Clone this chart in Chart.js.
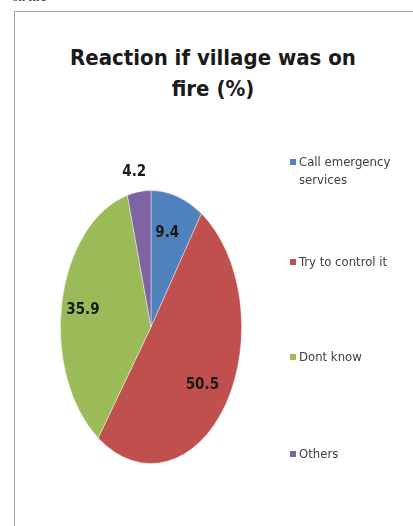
<!DOCTYPE html>
<html>
<head>
<meta charset="utf-8">
<script src="https://cdn.jsdelivr.net/npm/chart.js@4"></script>
<style>
  html, body { margin: 0; padding: 0; background: #fff; overflow: hidden; }
  #pagina { position: relative; width: 413px; height: 526px; overflow: hidden; }
  #textoTopo { position: absolute; left: 12px; top: -11px; font: 13px "Liberation Serif", serif; color: #222; }
  #moldura { position: absolute; left: 14px; top: 11px; width: 600px; height: 700px; border: 1px solid #a6a6a6; box-sizing: border-box; }
  #titulo { position: absolute; left: 40px; width: 346px; top: 42px; text-align: center;
    font: bold 22px "Liberation Sans Narrow", "Arial Narrow", "DejaVu Sans Condensed", sans-serif;
    line-height: 31px; color: #1a1a1a; }
  canvas { position: absolute; left: 0; top: 0; }
  .itemLegenda { position: absolute; left: 290px; width: 118px; font: 13px "Liberation Sans Narrow", "Arial Narrow", "DejaVu Sans Condensed", sans-serif;
    color: #404040; line-height: 18px; }
  .itemLegenda span.caixa { position: absolute; left: 0; top: 6px; width: 6px; height: 6px; }
  .itemLegenda span.texto { display: block; margin-left: 9px; }
</style>
</head>
<body>
<div id="pagina">
  <div id="textoTopo">on fire</div>
  <div id="moldura"></div>
  <div id="titulo">Reaction if village was on<br>fire (%)</div>
  <canvas id="graficoReacao" width="413" height="526"></canvas>
  <div id="legenda"></div>
</div>
<script>
// dados do grafico
const categorias = ['Call emergency services', 'Try to control it', 'Dont know', 'Others'];
const valores = [9.4, 50.5, 35.9, 4.2];
const cores = ['#4F81BD', '#C0504D', '#9BBB59', '#8064A2'];

// posicao vertical (topo) de cada item da legenda
const topoLegenda = [153, 253, 348, 445];

// achatamento horizontal da pizza (no original ela aparece como elipse)
const escalaX = 0.664;

// montando a legenda
let legenda = document.getElementById('legenda');
for (let i = 0; i < categorias.length; i++) {
    let item = document.createElement('div');
    item.className = 'itemLegenda';
    item.style.top = topoLegenda[i] + 'px';
    item.innerHTML = `<span class="caixa" style="background:${cores[i]}"></span><span class="texto">${categorias[i]}</span>`;
    legenda.appendChild(item);
}

// plugin que achata a pizza em elipse
const pluginElipse = {
    id: 'elipse',
    beforeDatasetsDraw(chart) {
        const arco = chart.getDatasetMeta(0).data[0];
        const ctx = chart.ctx;
        ctx.save();
        ctx.translate(arco.x, arco.y);
        ctx.scale(escalaX, 1);
        ctx.translate(-arco.x, -arco.y);
    },
    afterDatasetsDraw(chart) {
        chart.ctx.restore();
    }
};

// plugin dos rotulos de valor
const pluginRotulos = {
    id: 'rotulos',
    afterDraw(chart) {
        const ctx = chart.ctx;
        const meta = chart.getDatasetMeta(0);
        ctx.save();
        ctx.font = 'bold 15px "Liberation Sans Narrow", "Arial Narrow", "DejaVu Sans Condensed", sans-serif';
        ctx.fillStyle = '#1a1a1a';
        ctx.textAlign = 'center';
        ctx.textBaseline = 'middle';
        meta.data.forEach(function (arco, i) {
            const p = arco.getProps(['x', 'y', 'startAngle', 'endAngle', 'outerRadius'], true);
            const meio = (p.startAngle + p.endAngle) / 2;
            const fator = valores[i] < 5 ? 1.15 : 0.73;
            const px = p.x - 3 + Math.cos(meio) * p.outerRadius * fator * escalaX;
            const py = p.y + 1 + Math.sin(meio) * p.outerRadius * fator;
            ctx.fillText(valores[i].toFixed(1), px, py);
        });
        ctx.restore();
    }
};

const configReacao = {
    type: 'pie',
    data: {
        labels: categorias,
        datasets: [{
            data: valores,
            backgroundColor: cores,
            borderColor: 'rgba(255,255,255,0.5)',
            borderWidth: 1
        }]
    },
    options: {
        responsive: false,
        animation: false,
        layout: { padding: { left: 14, right: 125, top: 190, bottom: 62 } },
        plugins: {
            legend: { display: false },
            title: { display: false },
            tooltip: { enabled: false }
        }
    },
    plugins: [pluginElipse, pluginRotulos]
};

let graficoReacao = new Chart(document.getElementById('graficoReacao'), configReacao);
</script>
</body>
</html>
